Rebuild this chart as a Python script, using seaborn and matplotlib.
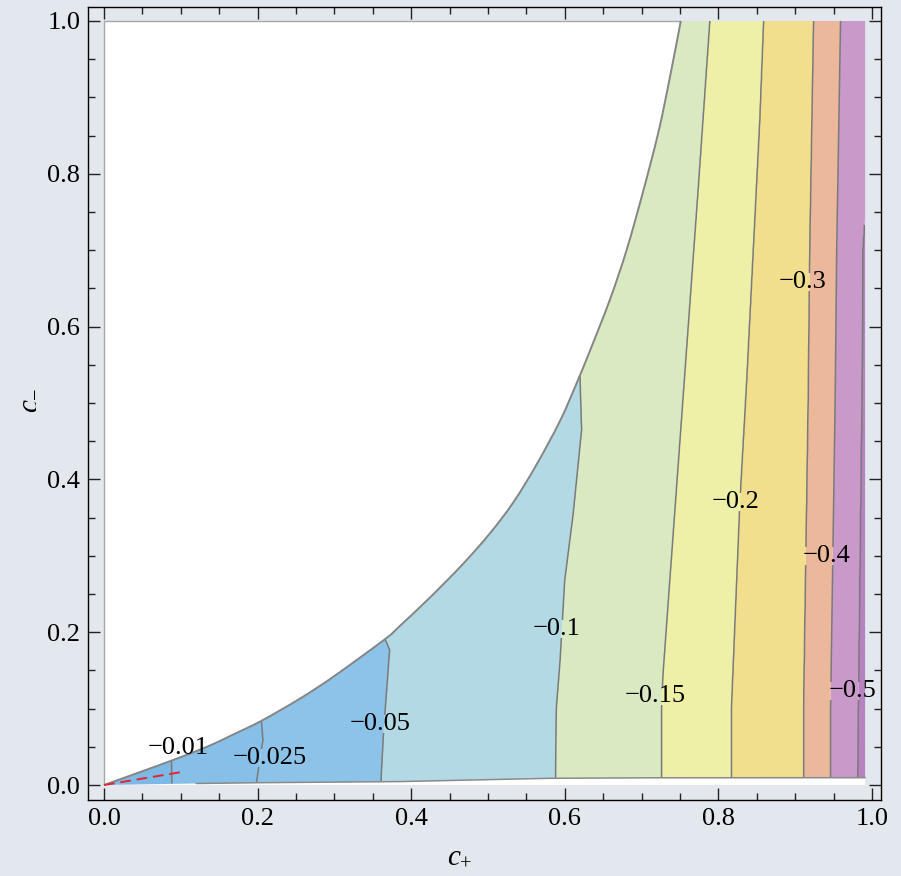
import numpy as np
import matplotlib
matplotlib.use("Agg")
import matplotlib.pyplot as plt
import seaborn as sns
from matplotlib.path import Path
from matplotlib.patches import PathPatch, Rectangle
from matplotlib.ticker import MultipleLocator, FormatStrFormatter

# ---------------- data ----------------
levels = [-0.01, -0.025, -0.05, -0.1, -0.15, -0.2, -0.3, -0.4, -0.5]
level_labels = ["\u22120.01", "\u22120.025", "\u22120.05", "\u22120.1", "\u22120.15",
                "\u22120.2", "\u22120.3", "\u22120.4", "\u22120.5"]

# contour lines: c_- samples (y) and c_+ positions (x)
c001_y = [0.0, 0.032]
c001_x = [0.089, 0.088]
c0025_y = [0.0, 0.0065, 0.059, 0.084]
c0025_x = [0.199, 0.199, 0.207, 0.205]
c005_y = [0.0, 0.011, 0.068, 0.177, 0.191]
c005_x = [0.361, 0.361, 0.364, 0.372, 0.366]
c01_y = [0.0, 0.009, 0.1, 0.164, 0.268, 0.355, 0.465, 0.53, 0.56]
c01_x = [0.588, 0.588, 0.589, 0.594, 0.600, 0.611, 0.622, 0.620, 0.620]
c015_y = [0.0, 0.1, 0.146, 0.52, 0.783, 1.0]
c015_x = [0.726, 0.726, 0.728, 0.755, 0.774, 0.789]
c02_y = [0.0, 0.098, 0.369, 0.53, 0.87, 1.0]
c02_x = [0.817, 0.817, 0.828, 0.837, 0.854, 0.859]
c03_y = [0.0, 0.098, 0.504, 0.70, 1.0]
c03_x = [0.911, 0.911, 0.917, 0.919, 0.924]
c04_y = [0.0, 0.098, 0.504, 0.70, 1.0]
c04_x = [0.946, 0.946, 0.952, 0.954, 0.959]
c05_y = [0.0, 0.098, 0.53, 0.70, 0.75, 1.0]
c05_x = [0.981, 0.982, 0.987, 0.988, 0.991, 0.999]

# upper boundary of the allowed region (white above)
boundary_x = [0.0, 0.047, 0.088, 0.134, 0.168, 0.205, 0.255, 0.299, 0.366, 0.385,
              0.424, 0.468, 0.503, 0.533, 0.563, 0.594, 0.615, 0.633, 0.659, 0.681,
              0.702, 0.722, 0.737, 0.751]
boundary_y = [0.0, 0.017, 0.032, 0.050, 0.066, 0.084, 0.113, 0.142, 0.191, 0.208,
              0.245, 0.290, 0.330, 0.370, 0.419, 0.477, 0.525, 0.569, 0.636, 0.702,
              0.777, 0.855, 0.927, 1.0]
# lower edge of the region
bottom_x = [0.0, 0.12, 0.2, 0.385, 0.58, 0.72, 0.991]
bottom_y = [0.0, 0.002, 0.003, 0.0045, 0.0088, 0.0095, 0.0096]
right_edge = 0.991

red_x = [0.0, 0.101]
red_y = [0.0, 0.017]

label_x = [0.097, 0.216, 0.359, 0.589, 0.718, 0.822, 0.909, 0.941, 0.975]
label_y = [0.049, 0.036, 0.080, 0.204, 0.116, 0.370, 0.658, 0.300, 0.123]

band_levels = [-0.75, -0.5, -0.4, -0.3, -0.2, -0.15, -0.1, -0.05, -0.025, -0.01, 0.01]
band_colors = ["#b682c0", "#c899c9", "#ebb89b", "#f2df8e", "#eef0a8",
               "#d9e9c2", "#b3d9e5", "#8dc3e9", "#86bfe8", "#7db9e6"]

page_bg = "#e3e8ee"

# ---------------- style ----------------
sns.set_theme(style="ticks")
plt.rcParams["font.family"] = ["Liberation Serif", "DejaVu Serif"]
plt.rcParams["mathtext.fontset"] = "custom"
plt.rcParams["mathtext.rm"] = "Liberation Serif"
plt.rcParams["mathtext.it"] = "Liberation Serif:italic"
plt.rcParams["text.color"] = "black"
FS = 19

fig = plt.figure(figsize=(9.01, 8.76), dpi=100, facecolor=page_bg)
ax = fig.add_axes([88 / 901, 76 / 876, 793 / 901, 793 / 876])
ax.set_facecolor(page_bg)
ax.set_xlim(-0.0208, 1.0117)
ax.set_ylim(-0.0196, 1.0183)

# white plot range
ax.add_patch(Rectangle((0, 0), right_edge, 1.0, facecolor="white", edgecolor="none", zorder=0))
ax.plot([0, 0, boundary_x[-1]], [0, 1, 1], color="#a8a8a8", lw=1.0, zorder=0.5)


# smooth (Catmull-Rom as cubic Bezier) path through the read boundary points
def smooth_codes_verts(px, py):
    P = np.column_stack([px, py])
    n = len(P)
    verts = [tuple(P[0])]
    codes = [Path.MOVETO]
    for i in range(n - 1):
        p0 = P[max(i - 1, 0)]
        p1 = P[i]
        p2 = P[i + 1]
        p3 = P[min(i + 2, n - 1)]
        c1 = p1 + (p2 - p0) / 6.0
        c2 = p2 - (p3 - p1) / 6.0
        verts += [tuple(c1), tuple(c2), tuple(p2)]
        codes += [Path.CURVE4] * 3
    return verts, codes


bverts, bcodes = smooth_codes_verts(boundary_x, boundary_y)
boundary_path = Path(bverts, bcodes)

rverts = bverts + [(right_edge, 1.0)] + list(zip(bottom_x[::-1], bottom_y[::-1])) + [bverts[0]]
rcodes = bcodes + [Path.LINETO] * (1 + len(bottom_x)) + [Path.CLOSEPOLY]
region_path = Path(rverts, rcodes)
region_patch = PathPatch(region_path, transform=ax.transData, facecolor="none", edgecolor="none")

# ---------------- field built from the read contour positions ----------------
lines = [(c001_y, c001_x), (c0025_y, c0025_x), (c005_y, c005_x), (c01_y, c01_x),
         (c015_y, c015_x), (c02_y, c02_x), (c03_y, c03_x), (c04_y, c04_x), (c05_y, c05_x)]
X = np.linspace(-0.02, 1.01, 1031)
Y = np.linspace(0.0, 1.0, 1001)
F = np.empty((len(Y), len(X)))
vals = [0.0] + levels + [-0.7]
for j, yy in enumerate(Y):
    xs = [-0.3] + [np.interp(yy, ly, lx) for ly, lx in lines] + [1.3]
    F[j] = np.interp(X, xs, vals)

cf = ax.contourf(X, Y, F, levels=band_levels, colors=band_colors, zorder=1, antialiased=True)
cf.set_clip_path(region_patch)

poly = Path(region_path.to_polygons(closed_only=True)[0])
XX, YY = np.meshgrid(X, Y)
inside = poly.contains_points(np.column_stack([XX.ravel(), YY.ravel()])).reshape(XX.shape)
Fm = np.where(inside, F, np.nan)
cs = ax.contour(X, Y, Fm, levels=sorted(levels), colors="#7a7a7a", linewidths=1.1,
                linestyles="solid", zorder=2)

# boundary curves
ax.add_patch(PathPatch(boundary_path, facecolor="none", edgecolor="#858585", lw=1.4, zorder=3))
sns.lineplot(x=bottom_x[1:], y=bottom_y[1:], ax=ax, color="#8a8a8a", lw=1.1, sort=False,
             estimator=None, zorder=3)
sns.lineplot(x=red_x, y=red_y, ax=ax, color="#e3262c", lw=1.4, sort=False, estimator=None,
             linestyle=(0, (5.5, 3.0)), zorder=4)

# contour labels
texts = []
for lx, ly, s in zip(label_x, label_y, level_labels):
    texts.append(ax.text(lx, ly, s, ha="center", va="center", fontsize=FS, color="black",
                         zorder=5))

# break contour lines under labels
fig.canvas.draw()
renderer = fig.canvas.get_renderer()
inv = ax.transData.inverted()
x0, x1 = ax.get_xlim()
y0, y1 = ax.get_ylim()
v = [(x0, y0), (x1, y0), (x1, y1), (x0, y1), (x0, y0)]
c = [Path.MOVETO, Path.LINETO, Path.LINETO, Path.LINETO, Path.CLOSEPOLY]
for t in texts:
    bb = t.get_window_extent(renderer)
    (a0, b0), (a1, b1) = inv.transform([[bb.x0, bb.y0 + 2], [bb.x1, bb.y1 - 2]])
    v += [(a0, b0), (a0, b1), (a1, b1), (a1, b0), (a0, b0)]
    c += [Path.MOVETO, Path.LINETO, Path.LINETO, Path.LINETO, Path.CLOSEPOLY]
cs.set_clip_path(PathPatch(Path(v, c), transform=ax.transData))

# ---------------- axes, ticks ----------------
ax.xaxis.set_major_locator(MultipleLocator(0.2))
ax.yaxis.set_major_locator(MultipleLocator(0.2))
ax.xaxis.set_minor_locator(MultipleLocator(0.05))
ax.yaxis.set_minor_locator(MultipleLocator(0.05))
ax.xaxis.set_major_formatter(FormatStrFormatter("%.1f"))
ax.yaxis.set_major_formatter(FormatStrFormatter("%.1f"))
ax.tick_params(which="both", direction="in", top=True, right=True, color="#222222",
               width=1.0, labelsize=FS, pad=5.5, labelcolor="black")
ax.tick_params(which="major", length=8.6)
ax.tick_params(which="minor", length=5.0)
for sp in ax.spines.values():
    sp.set_color("black")
    sp.set_linewidth(1.0)

ax.set_xlabel("$c_{+}$", fontsize=21, color="black")
ax.set_ylabel("$c_{-}$", fontsize=21, color="black")
ax.xaxis.set_label_coords(0.469, -0.055)
ax.yaxis.set_label_coords(-0.060, 0.504)

fig.savefig("out.png", dpi=100, facecolor=page_bg)
